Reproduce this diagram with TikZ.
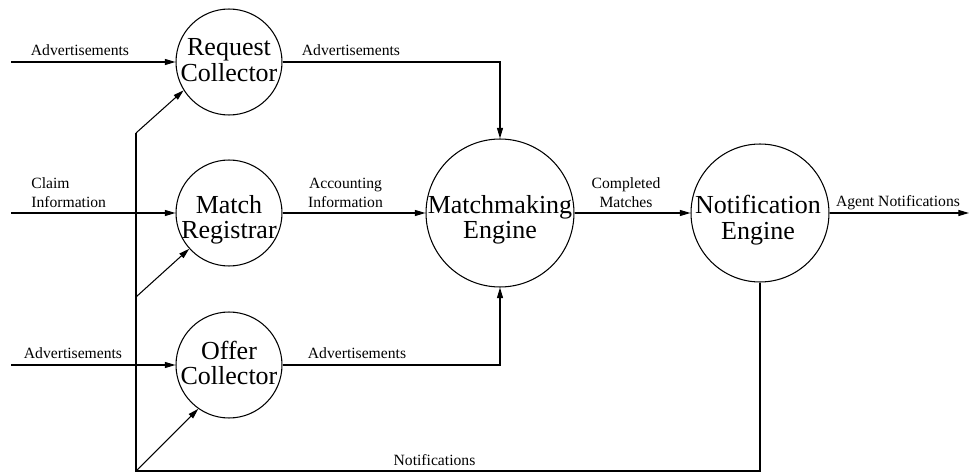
\documentclass[tikz,border=0pt]{standalone}
\usepackage{fontspec}
\setmainfont{Liberation Serif}
\usepackage{tikz}
\usetikzlibrary{positioning, arrows.meta, calc}
\tikzset{
    process/.style={circle, draw, line width=0.6pt, inner sep=0pt},
    proc_text/.style={font=\fontsize{14.8}{14.5}\selectfont, align=center, inner sep=0pt},
    flow_label/.style={font=\fontsize{8.9}{10.8}\selectfont, inner sep=0pt},
    flow/.style={line width=0.6pt, -{Triangle[length=6pt, width=3.4pt]}},
    flow_line/.style={line width=0.6pt}
}
\begin{document}
\begin{tikzpicture}[x=0.02cm, y=-0.02cm]
    \useasboundingbox (0,0) rectangle (971,473);

    % --- Process circles ---
    \node (rc) [process, minimum size=2.12cm] at (229,62) {};
    \node (rc-t) [proc_text] at (229,60) {Request\\Collector};
    \node (mr) [process, minimum size=2.12cm] at (229,213) {};
    \node (mr-t) [proc_text] at (229,220) {Match\\Registrar};
    \node (oc) [process, minimum size=2.12cm] at (229,365) {};
    \node (oc-t) [proc_text] at (229,363) {Offer\\Collector};
    \node (me) [process, minimum size=2.96cm] at (500,213) {};
    \node (me-t) [proc_text] at (500,220) {Matchmaking\\Engine};
    \node (ne) [process, minimum size=2.76cm] at (760,213) {};
    \node (ne-t) [proc_text] at (758,220) {Notification\\Engine};

    % --- Free ends ---
    \coordinate (inA) at (11,62);
    \coordinate (inB) at (11,213);
    \coordinate (inC) at (11,365);
    \coordinate (outN) at (969,213);
    \coordinate (busTop) at (136,133);
    \coordinate (busMid) at (136,297);
    \coordinate (busBot) at (136,471);

    % --- Flows ---
    \draw[flow] (inA) -- (rc);
    \draw[flow] (inB) -- (mr);
    \draw[flow] (inC) -- (oc);
    \draw[flow] (rc.east) -| (me.north);
    \draw[flow] (mr) -- (me);
    \draw[flow] (oc.east) -| (me.south);
    \draw[flow] (me) -- (ne);
    \draw[flow] (ne) -- (outN);
    \draw[flow_line] (ne.south) |- (busBot) -- (busTop);
    \draw[flow] (busTop) -- (rc.212);
    \draw[flow] (busMid) -- (mr.222);
    \draw[flow] (busBot) -- (oc.235);

    % --- Labels ---
    \node (lAdvA) [flow_label, anchor=base] at (80,56) {Advertisements};
    \node (lClaim) [flow_label, align=left, anchor=west] at (31,192.5) {Claim\\Information};
    \node (lAdvC) [flow_label, anchor=base] at (73,358) {Advertisements};
    \node (lAdvRc) [flow_label, anchor=base] at (351,56) {Advertisements};
    \node (lAcc) [flow_label, align=center] at (345.5,193) {Accounting\\Information};
    \node (lAdvOc) [flow_label, anchor=base] at (357,358) {Advertisements};
    \node (lComp) [flow_label, align=center] at (626,193) {Completed\\Matches};
    \node (lAgent) [flow_label, anchor=base] at (898,207) {Agent Notifications};
    \node (lNotif) [flow_label, anchor=base] at (434.5,465) {Notifications};
\end{tikzpicture}
\end{document}
